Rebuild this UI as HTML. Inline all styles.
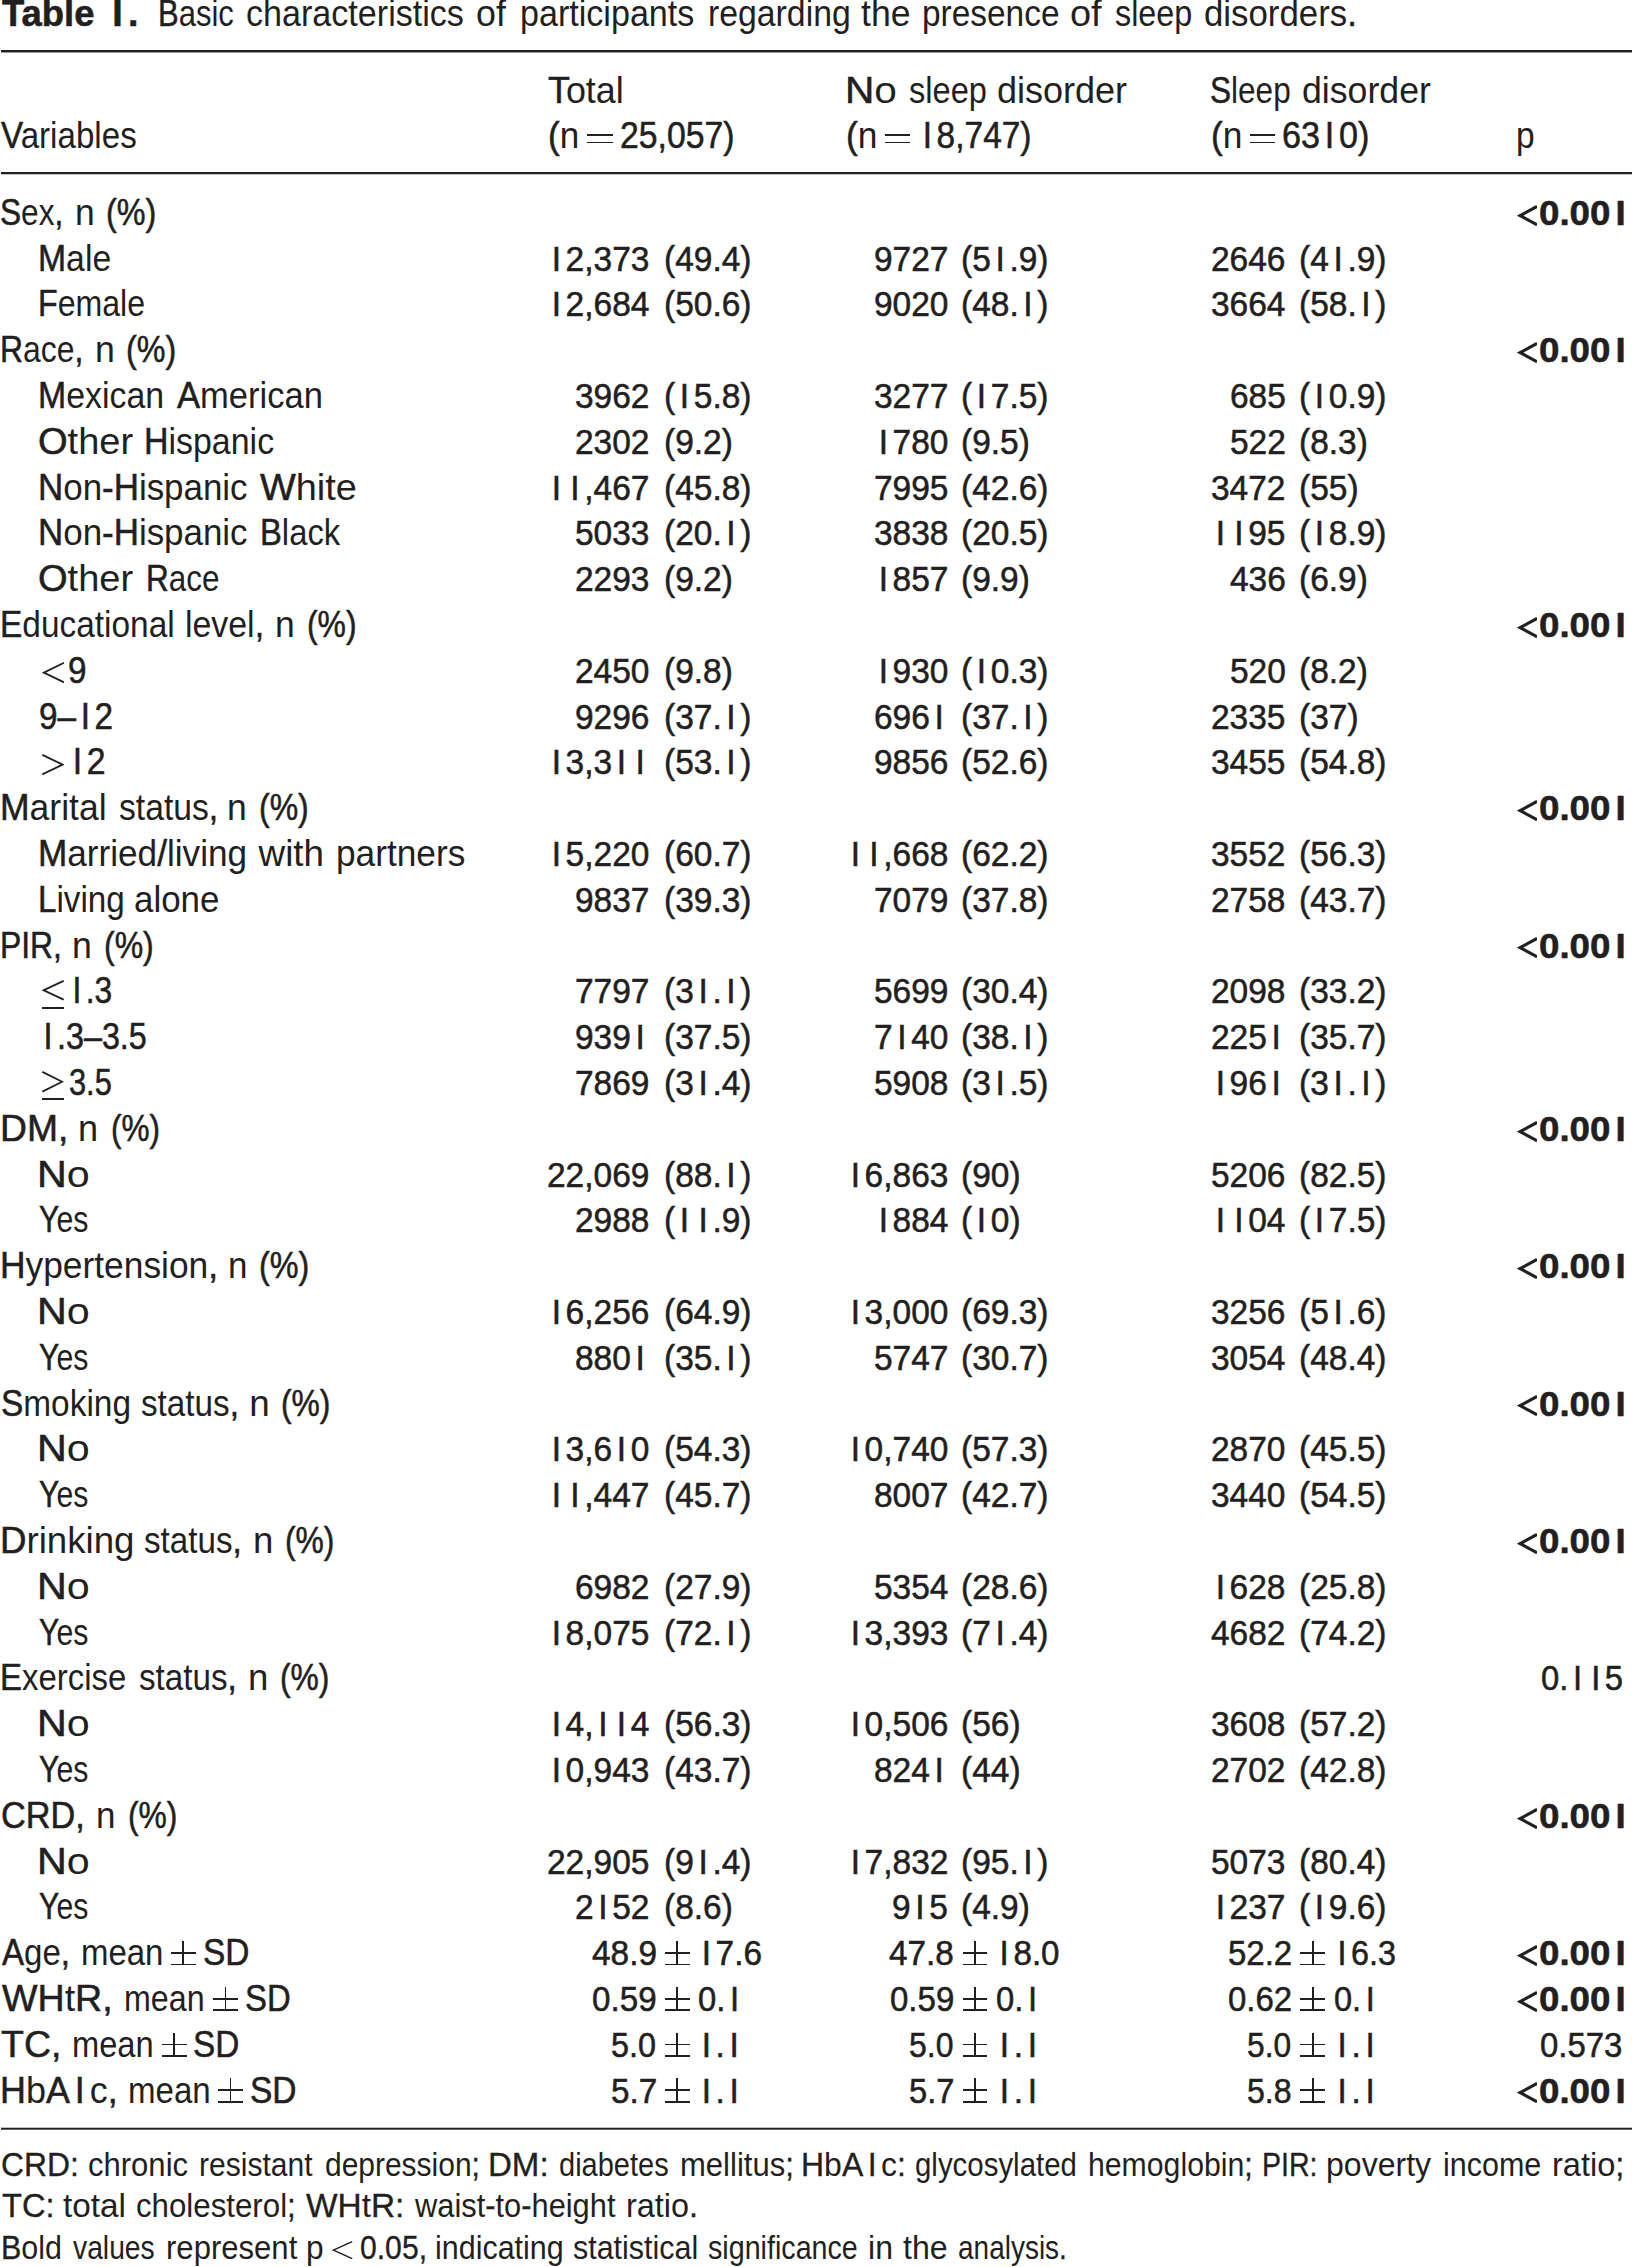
<!DOCTYPE html>
<html><head><meta charset="utf-8"><style>
html,body{margin:0;padding:0;background:#fff;}
body{width:1632px;height:2267px;position:relative;overflow:hidden;font-family:"Liberation Sans",sans-serif;color:#231f20;}
.t{position:absolute;white-space:pre;transform-origin:0 0;-webkit-text-stroke:0.6px #231f20;word-spacing:3.5px;}
.ln{position:absolute;left:1px;width:1631px;background:#231f20;}
.pm{position:absolute;}
.pm i{position:absolute;background:#231f20;display:block;}
</style></head><body>

<div class="t" style="left:2.30px;top:-4.00px;font-size:36.8px;line-height:36.8px;font-weight:bold;-webkit-text-stroke-width:0.55px;transform:scaleX(0.9903)">Table</div>
<div class="t" style="left:107.04px;top:-4.00px;font-size:36.8px;line-height:36.8px;font-weight:bold;-webkit-text-stroke-width:0.55px;transform:scaleX(1.0227)"><span style="margin:0 0.139em">I</span>.</div>
<div class="t" style="left:157.57px;top:-4.00px;font-size:36.8px;line-height:36.8px;-webkit-text-stroke-width:0.55px;transform:scaleX(0.8419)">B<span style="-webkit-text-stroke-width:0.0px">asic</span></div>
<div class="t" style="left:245.65px;top:-4.00px;font-size:36.8px;line-height:36.8px;-webkit-text-stroke-width:0.55px;transform:scaleX(0.9267)"><span style="-webkit-text-stroke-width:0.0px">characteristics</span></div>
<div class="t" style="left:476.06px;top:-4.00px;font-size:36.8px;line-height:36.8px;-webkit-text-stroke-width:0.55px;transform:scaleX(0.9724)"><span style="-webkit-text-stroke-width:0.0px">of</span></div>
<div class="t" style="left:519.85px;top:-4.00px;font-size:36.8px;line-height:36.8px;-webkit-text-stroke-width:0.55px;transform:scaleX(0.9265)"><span style="-webkit-text-stroke-width:0.0px">participants</span></div>
<div class="t" style="left:707.66px;top:-4.00px;font-size:36.8px;line-height:36.8px;-webkit-text-stroke-width:0.55px;transform:scaleX(0.9179)"><span style="-webkit-text-stroke-width:0.0px">regarding</span></div>
<div class="t" style="left:860.63px;top:-4.00px;font-size:36.8px;line-height:36.8px;-webkit-text-stroke-width:0.55px;transform:scaleX(0.9694)"><span style="-webkit-text-stroke-width:0.0px">the</span></div>
<div class="t" style="left:922.18px;top:-4.00px;font-size:36.8px;line-height:36.8px;-webkit-text-stroke-width:0.55px;transform:scaleX(0.9081)"><span style="-webkit-text-stroke-width:0.0px">presence</span></div>
<div class="t" style="left:1070.44px;top:-4.00px;font-size:36.8px;line-height:36.8px;-webkit-text-stroke-width:0.55px;transform:scaleX(1.0310)"><span style="-webkit-text-stroke-width:0.0px">of</span></div>
<div class="t" style="left:1114.72px;top:-4.00px;font-size:36.8px;line-height:36.8px;-webkit-text-stroke-width:0.55px;transform:scaleX(0.8788)"><span style="-webkit-text-stroke-width:0.0px">sleep</span></div>
<div class="t" style="left:1203.91px;top:-4.00px;font-size:36.8px;line-height:36.8px;-webkit-text-stroke-width:0.55px;transform:scaleX(0.9459)"><span style="-webkit-text-stroke-width:0.0px">disorders</span>.</div>
<div class="t" style="left:1.20px;top:118.30px;font-size:36.8px;line-height:36.8px;-webkit-text-stroke-width:0.55px;transform:scaleX(0.9007)">V<span style="-webkit-text-stroke-width:0.0px">ariables</span></div>
<div class="t" style="left:548.33px;top:72.60px;font-size:36.8px;line-height:36.8px;-webkit-text-stroke-width:0.55px;transform:scaleX(0.9743)">T<span style="-webkit-text-stroke-width:0.0px">otal</span></div>
<div class="t" style="left:548.29px;top:118.00px;font-size:36.8px;line-height:36.8px;-webkit-text-stroke-width:0.55px;transform:scaleX(0.9536)">(<span style="-webkit-text-stroke-width:0.0px">n</span></div>
<div class="t" style="left:620.06px;top:118.00px;font-size:36.8px;line-height:36.8px;-webkit-text-stroke-width:0.55px;transform:scaleX(0.9182)">25,057)</div>
<div class="t" style="left:844.79px;top:72.50px;font-size:36.8px;line-height:36.8px;-webkit-text-stroke-width:0.55px;transform:scaleX(1.1024)">N<span style="-webkit-text-stroke-width:0.0px">o</span></div>
<div class="t" style="left:909.01px;top:72.50px;font-size:36.8px;line-height:36.8px;-webkit-text-stroke-width:0.55px;transform:scaleX(0.8859)"><span style="-webkit-text-stroke-width:0.0px">sleep</span></div>
<div class="t" style="left:996.84px;top:72.50px;font-size:36.8px;line-height:36.8px;-webkit-text-stroke-width:0.55px;transform:scaleX(0.9785)"><span style="-webkit-text-stroke-width:0.0px">disorder</span></div>
<div class="t" style="left:846.08px;top:117.80px;font-size:36.8px;line-height:36.8px;-webkit-text-stroke-width:0.55px;transform:scaleX(0.9607)">(<span style="-webkit-text-stroke-width:0.0px">n</span></div>
<div class="t" style="left:918.12px;top:117.80px;font-size:36.8px;line-height:36.8px;-webkit-text-stroke-width:0.55px;transform:scaleX(0.9096)"><span style="margin:0 0.139em">I</span>8,747)</div>
<div class="t" style="left:1209.59px;top:72.50px;font-size:36.8px;line-height:36.8px;-webkit-text-stroke-width:0.55px;transform:scaleX(0.8571)">S<span style="-webkit-text-stroke-width:0.0px">leep</span></div>
<div class="t" style="left:1302.06px;top:72.50px;font-size:36.8px;line-height:36.8px;-webkit-text-stroke-width:0.55px;transform:scaleX(0.9692)"><span style="-webkit-text-stroke-width:0.0px">disorder</span></div>
<div class="t" style="left:1210.98px;top:117.80px;font-size:36.8px;line-height:36.8px;-webkit-text-stroke-width:0.55px;transform:scaleX(0.9607)">(<span style="-webkit-text-stroke-width:0.0px">n</span></div>
<div class="t" style="left:1282.44px;top:117.80px;font-size:36.8px;line-height:36.8px;-webkit-text-stroke-width:0.55px;transform:scaleX(0.9289)">63<span style="margin:0 0.139em">I</span>0)</div>
<div class="t" style="left:1516.18px;top:117.60px;font-size:36.8px;line-height:36.8px;-webkit-text-stroke-width:0.55px;transform:scaleX(0.9100)"><span style="-webkit-text-stroke-width:0.0px">p</span></div>
<div class="t" style="left:0.28px;top:194.80px;font-size:36.8px;line-height:36.8px;-webkit-text-stroke-width:0.55px;transform:scaleX(0.8594)">S<span style="-webkit-text-stroke-width:0.0px">ex</span>,</div>
<div class="t" style="left:75.28px;top:194.80px;font-size:36.8px;line-height:36.8px;-webkit-text-stroke-width:0.55px;transform:scaleX(0.9625)"><span style="-webkit-text-stroke-width:0.0px">n</span></div>
<div class="t" style="left:106.04px;top:194.80px;font-size:36.8px;line-height:36.8px;-webkit-text-stroke-width:0.55px;transform:scaleX(0.8792)">(%)</div>
<div class="t" style="left:37.65px;top:240.60px;font-size:36.8px;line-height:36.8px;-webkit-text-stroke-width:0.55px;transform:scaleX(0.9173)">M<span style="-webkit-text-stroke-width:0.0px">ale</span></div>
<div class="t" style="left:37.78px;top:286.40px;font-size:36.8px;line-height:36.8px;-webkit-text-stroke-width:0.55px;transform:scaleX(0.8729)">F<span style="-webkit-text-stroke-width:0.0px">emale</span></div>
<div class="t" style="left:0.30px;top:332.20px;font-size:36.8px;line-height:36.8px;-webkit-text-stroke-width:0.55px;transform:scaleX(0.8667)">R<span style="-webkit-text-stroke-width:0.0px">ace</span>,</div>
<div class="t" style="left:94.86px;top:332.20px;font-size:36.8px;line-height:36.8px;-webkit-text-stroke-width:0.55px;transform:scaleX(0.9688)"><span style="-webkit-text-stroke-width:0.0px">n</span></div>
<div class="t" style="left:125.75px;top:332.20px;font-size:36.8px;line-height:36.8px;-webkit-text-stroke-width:0.55px;transform:scaleX(0.8774)">(%)</div>
<div class="t" style="left:37.64px;top:378.00px;font-size:36.8px;line-height:36.8px;-webkit-text-stroke-width:0.55px;transform:scaleX(0.9197)">M<span style="-webkit-text-stroke-width:0.0px">exican</span></div>
<div class="t" style="left:177.00px;top:378.00px;font-size:36.8px;line-height:36.8px;-webkit-text-stroke-width:0.55px;transform:scaleX(0.9386)">A<span style="-webkit-text-stroke-width:0.0px">merican</span></div>
<div class="t" style="left:38.33px;top:423.80px;font-size:36.8px;line-height:36.8px;-webkit-text-stroke-width:0.55px;transform:scaleX(1.0337)">O<span style="-webkit-text-stroke-width:0.0px">ther</span></div>
<div class="t" style="left:144.23px;top:423.80px;font-size:36.8px;line-height:36.8px;-webkit-text-stroke-width:0.55px;transform:scaleX(0.9219)">H<span style="-webkit-text-stroke-width:0.0px">ispanic</span></div>
<div class="t" style="left:37.55px;top:469.60px;font-size:36.8px;line-height:36.8px;-webkit-text-stroke-width:0.55px;transform:scaleX(0.9488)">N<span style="-webkit-text-stroke-width:0.0px">on</span>-H<span style="-webkit-text-stroke-width:0.0px">ispanic</span></div>
<div class="t" style="left:260.30px;top:469.60px;font-size:36.8px;line-height:36.8px;-webkit-text-stroke-width:0.55px;transform:scaleX(1.0293)">W<span style="-webkit-text-stroke-width:0.0px">hite</span></div>
<div class="t" style="left:37.55px;top:515.40px;font-size:36.8px;line-height:36.8px;-webkit-text-stroke-width:0.55px;transform:scaleX(0.9488)">N<span style="-webkit-text-stroke-width:0.0px">on</span>-H<span style="-webkit-text-stroke-width:0.0px">ispanic</span></div>
<div class="t" style="left:259.73px;top:515.40px;font-size:36.8px;line-height:36.8px;-webkit-text-stroke-width:0.55px;transform:scaleX(0.8908)">B<span style="-webkit-text-stroke-width:0.0px">lack</span></div>
<div class="t" style="left:38.33px;top:561.20px;font-size:36.8px;line-height:36.8px;-webkit-text-stroke-width:0.55px;transform:scaleX(1.0337)">O<span style="-webkit-text-stroke-width:0.0px">ther</span></div>
<div class="t" style="left:145.73px;top:561.20px;font-size:36.8px;line-height:36.8px;-webkit-text-stroke-width:0.55px;transform:scaleX(0.8556)">R<span style="-webkit-text-stroke-width:0.0px">ace</span></div>
<div class="t" style="left:0.17px;top:607.00px;font-size:36.8px;line-height:36.8px;-webkit-text-stroke-width:0.55px;transform:scaleX(0.9086)">E<span style="-webkit-text-stroke-width:0.0px">ducational</span></div>
<div class="t" style="left:185.44px;top:607.00px;font-size:36.8px;line-height:36.8px;-webkit-text-stroke-width:0.55px;transform:scaleX(0.9200)"><span style="-webkit-text-stroke-width:0.0px">level</span>,</div>
<div class="t" style="left:275.07px;top:607.00px;font-size:36.8px;line-height:36.8px;-webkit-text-stroke-width:0.55px;transform:scaleX(0.9625)"><span style="-webkit-text-stroke-width:0.0px">n</span></div>
<div class="t" style="left:306.57px;top:607.00px;font-size:36.8px;line-height:36.8px;-webkit-text-stroke-width:0.55px;transform:scaleX(0.8660)">(%)</div>
<div class="t" style="left:39.09px;top:698.60px;font-size:36.8px;line-height:36.8px;-webkit-text-stroke-width:0.55px;transform:scaleX(0.9050)">9–<span style="margin:0 0.139em">I</span>2</div>
<div class="t" style="left:0.01px;top:790.20px;font-size:36.8px;line-height:36.8px;-webkit-text-stroke-width:0.55px;transform:scaleX(0.9648)">M<span style="-webkit-text-stroke-width:0.0px">arital</span></div>
<div class="t" style="left:118.68px;top:790.20px;font-size:36.8px;line-height:36.8px;-webkit-text-stroke-width:0.55px;transform:scaleX(0.9152)"><span style="-webkit-text-stroke-width:0.0px">status</span>,</div>
<div class="t" style="left:227.27px;top:790.20px;font-size:36.8px;line-height:36.8px;-webkit-text-stroke-width:0.55px;transform:scaleX(0.9625)"><span style="-webkit-text-stroke-width:0.0px">n</span></div>
<div class="t" style="left:258.56px;top:790.20px;font-size:36.8px;line-height:36.8px;-webkit-text-stroke-width:0.55px;transform:scaleX(0.8698)">(%)</div>
<div class="t" style="left:37.53px;top:836.00px;font-size:36.8px;line-height:36.8px;-webkit-text-stroke-width:0.55px;transform:scaleX(0.9554)">M<span style="-webkit-text-stroke-width:0.0px">arried</span>/<span style="-webkit-text-stroke-width:0.0px">living</span></div>
<div class="t" style="left:258.60px;top:836.00px;font-size:36.8px;line-height:36.8px;-webkit-text-stroke-width:0.55px;transform:scaleX(1.0000)"><span style="-webkit-text-stroke-width:0.0px">with</span></div>
<div class="t" style="left:335.78px;top:836.00px;font-size:36.8px;line-height:36.8px;-webkit-text-stroke-width:0.55px;transform:scaleX(0.9576)"><span style="-webkit-text-stroke-width:0.0px">partners</span></div>
<div class="t" style="left:37.69px;top:881.80px;font-size:36.8px;line-height:36.8px;-webkit-text-stroke-width:0.55px;transform:scaleX(0.9022)">L<span style="-webkit-text-stroke-width:0.0px">iving</span></div>
<div class="t" style="left:134.10px;top:881.80px;font-size:36.8px;line-height:36.8px;-webkit-text-stroke-width:0.55px;transform:scaleX(0.9488)"><span style="-webkit-text-stroke-width:0.0px">alone</span></div>
<div class="t" style="left:0.30px;top:927.60px;font-size:36.8px;line-height:36.8px;-webkit-text-stroke-width:0.55px;transform:scaleX(0.8652)">PIR,</div>
<div class="t" style="left:71.56px;top:927.60px;font-size:36.8px;line-height:36.8px;-webkit-text-stroke-width:0.55px;transform:scaleX(0.9688)"><span style="-webkit-text-stroke-width:0.0px">n</span></div>
<div class="t" style="left:103.66px;top:927.60px;font-size:36.8px;line-height:36.8px;-webkit-text-stroke-width:0.55px;transform:scaleX(0.8698)">(%)</div>
<div class="t" style="left:39.08px;top:1019.20px;font-size:36.8px;line-height:36.8px;-webkit-text-stroke-width:0.55px;transform:scaleX(0.8781)"><span style="margin:0 0.139em">I</span>.3–3.5</div>
<div class="t" style="left:-0.14px;top:1110.80px;font-size:36.8px;line-height:36.8px;-webkit-text-stroke-width:0.55px;transform:scaleX(1.0129)">DM,</div>
<div class="t" style="left:78.44px;top:1110.80px;font-size:36.8px;line-height:36.8px;-webkit-text-stroke-width:0.55px;transform:scaleX(0.9812)"><span style="-webkit-text-stroke-width:0.0px">n</span></div>
<div class="t" style="left:110.99px;top:1110.80px;font-size:36.8px;line-height:36.8px;-webkit-text-stroke-width:0.55px;transform:scaleX(0.8566)">(%)</div>
<div class="t" style="left:0.02px;top:1248.20px;font-size:36.8px;line-height:36.8px;-webkit-text-stroke-width:0.55px;transform:scaleX(0.9606)">H<span style="-webkit-text-stroke-width:0.0px">ypertension</span>,</div>
<div class="t" style="left:228.00px;top:1248.20px;font-size:36.8px;line-height:36.8px;-webkit-text-stroke-width:0.55px;transform:scaleX(0.9500)"><span style="-webkit-text-stroke-width:0.0px">n</span></div>
<div class="t" style="left:259.24px;top:1248.20px;font-size:36.8px;line-height:36.8px;-webkit-text-stroke-width:0.55px;transform:scaleX(0.8792)">(%)</div>
<div class="t" style="left:0.68px;top:1385.60px;font-size:36.8px;line-height:36.8px;-webkit-text-stroke-width:0.55px;transform:scaleX(0.9079)">S<span style="-webkit-text-stroke-width:0.0px">moking</span></div>
<div class="t" style="left:140.80px;top:1385.60px;font-size:36.8px;line-height:36.8px;-webkit-text-stroke-width:0.55px;transform:scaleX(0.9029)"><span style="-webkit-text-stroke-width:0.0px">status</span>,</div>
<div class="t" style="left:249.20px;top:1385.60px;font-size:36.8px;line-height:36.8px;-webkit-text-stroke-width:0.55px;transform:scaleX(1.0000)"><span style="-webkit-text-stroke-width:0.0px">n</span></div>
<div class="t" style="left:281.37px;top:1385.60px;font-size:36.8px;line-height:36.8px;-webkit-text-stroke-width:0.55px;transform:scaleX(0.8642)">(%)</div>
<div class="t" style="left:-0.09px;top:1523.00px;font-size:36.8px;line-height:36.8px;-webkit-text-stroke-width:0.55px;transform:scaleX(0.9962)">D<span style="-webkit-text-stroke-width:0.0px">rinking</span></div>
<div class="t" style="left:144.20px;top:1523.00px;font-size:36.8px;line-height:36.8px;-webkit-text-stroke-width:0.55px;transform:scaleX(0.9010)"><span style="-webkit-text-stroke-width:0.0px">status</span>,</div>
<div class="t" style="left:252.91px;top:1523.00px;font-size:36.8px;line-height:36.8px;-webkit-text-stroke-width:0.55px;transform:scaleX(0.9938)"><span style="-webkit-text-stroke-width:0.0px">n</span></div>
<div class="t" style="left:284.57px;top:1523.00px;font-size:36.8px;line-height:36.8px;-webkit-text-stroke-width:0.55px;transform:scaleX(0.8642)">(%)</div>
<div class="t" style="left:0.22px;top:1660.40px;font-size:36.8px;line-height:36.8px;-webkit-text-stroke-width:0.55px;transform:scaleX(0.8949)">E<span style="-webkit-text-stroke-width:0.0px">xercise</span></div>
<div class="t" style="left:139.30px;top:1660.40px;font-size:36.8px;line-height:36.8px;-webkit-text-stroke-width:0.55px;transform:scaleX(0.9010)"><span style="-webkit-text-stroke-width:0.0px">status</span>,</div>
<div class="t" style="left:248.01px;top:1660.40px;font-size:36.8px;line-height:36.8px;-webkit-text-stroke-width:0.55px;transform:scaleX(0.9937)"><span style="-webkit-text-stroke-width:0.0px">n</span></div>
<div class="t" style="left:279.67px;top:1660.40px;font-size:36.8px;line-height:36.8px;-webkit-text-stroke-width:0.55px;transform:scaleX(0.8642)">(%)</div>
<div class="t" style="left:1.04px;top:1797.80px;font-size:36.8px;line-height:36.8px;-webkit-text-stroke-width:0.55px;transform:scaleX(0.9318)">CRD,</div>
<div class="t" style="left:96.10px;top:1797.80px;font-size:36.8px;line-height:36.8px;-webkit-text-stroke-width:0.55px;transform:scaleX(0.9500)"><span style="-webkit-text-stroke-width:0.0px">n</span></div>
<div class="t" style="left:127.67px;top:1797.80px;font-size:36.8px;line-height:36.8px;-webkit-text-stroke-width:0.55px;transform:scaleX(0.8642)">(%)</div>
<div class="t" style="left:36.94px;top:1156.60px;font-size:36.8px;line-height:36.8px;-webkit-text-stroke-width:0.55px;transform:scaleX(1.1214)">N<span style="-webkit-text-stroke-width:0.0px">o</span></div>
<div class="t" style="left:36.94px;top:1294.00px;font-size:36.8px;line-height:36.8px;-webkit-text-stroke-width:0.55px;transform:scaleX(1.1214)">N<span style="-webkit-text-stroke-width:0.0px">o</span></div>
<div class="t" style="left:36.94px;top:1431.40px;font-size:36.8px;line-height:36.8px;-webkit-text-stroke-width:0.55px;transform:scaleX(1.1214)">N<span style="-webkit-text-stroke-width:0.0px">o</span></div>
<div class="t" style="left:36.94px;top:1568.80px;font-size:36.8px;line-height:36.8px;-webkit-text-stroke-width:0.55px;transform:scaleX(1.1214)">N<span style="-webkit-text-stroke-width:0.0px">o</span></div>
<div class="t" style="left:36.94px;top:1706.20px;font-size:36.8px;line-height:36.8px;-webkit-text-stroke-width:0.55px;transform:scaleX(1.1214)">N<span style="-webkit-text-stroke-width:0.0px">o</span></div>
<div class="t" style="left:36.94px;top:1843.60px;font-size:36.8px;line-height:36.8px;-webkit-text-stroke-width:0.55px;transform:scaleX(1.1214)">N<span style="-webkit-text-stroke-width:0.0px">o</span></div>
<div class="t" style="left:38.88px;top:1202.40px;font-size:36.8px;line-height:36.8px;-webkit-text-stroke-width:0.55px;transform:scaleX(0.8224)">Y<span style="-webkit-text-stroke-width:0.0px">es</span></div>
<div class="t" style="left:38.88px;top:1339.80px;font-size:36.8px;line-height:36.8px;-webkit-text-stroke-width:0.55px;transform:scaleX(0.8224)">Y<span style="-webkit-text-stroke-width:0.0px">es</span></div>
<div class="t" style="left:38.88px;top:1477.20px;font-size:36.8px;line-height:36.8px;-webkit-text-stroke-width:0.55px;transform:scaleX(0.8224)">Y<span style="-webkit-text-stroke-width:0.0px">es</span></div>
<div class="t" style="left:38.88px;top:1614.60px;font-size:36.8px;line-height:36.8px;-webkit-text-stroke-width:0.55px;transform:scaleX(0.8224)">Y<span style="-webkit-text-stroke-width:0.0px">es</span></div>
<div class="t" style="left:38.88px;top:1752.00px;font-size:36.8px;line-height:36.8px;-webkit-text-stroke-width:0.55px;transform:scaleX(0.8224)">Y<span style="-webkit-text-stroke-width:0.0px">es</span></div>
<div class="t" style="left:38.88px;top:1889.40px;font-size:36.8px;line-height:36.8px;-webkit-text-stroke-width:0.55px;transform:scaleX(0.8224)">Y<span style="-webkit-text-stroke-width:0.0px">es</span></div>
<div class="t" style="left:68.09px;top:652.80px;font-size:36.8px;line-height:36.8px;-webkit-text-stroke-width:0.55px;transform:scaleX(0.9056)">9</div>
<div class="t" style="left:67.65px;top:744.40px;font-size:36.8px;line-height:36.8px;-webkit-text-stroke-width:0.55px;transform:scaleX(0.9188)"><span style="margin:0 0.139em">I</span>2</div>
<div class="t" style="left:68.10px;top:973.40px;font-size:36.8px;line-height:36.8px;-webkit-text-stroke-width:0.55px;transform:scaleX(0.8619)"><span style="margin:0 0.139em">I</span>.3</div>
<div class="t" style="left:69.36px;top:1065.00px;font-size:36.8px;line-height:36.8px;-webkit-text-stroke-width:0.55px;transform:scaleX(0.8367)">3.5</div>
<div class="t" style="left:2.00px;top:1935.20px;font-size:36.8px;line-height:36.8px;-webkit-text-stroke-width:0.55px;transform:scaleX(0.8986)">A<span style="-webkit-text-stroke-width:0.0px">ge</span>,</div>
<div class="t" style="left:80.61px;top:1935.20px;font-size:36.8px;line-height:36.8px;-webkit-text-stroke-width:0.55px;transform:scaleX(0.8955)"><span style="-webkit-text-stroke-width:0.0px">mean</span></div>
<div class="t" style="left:202.58px;top:1935.20px;font-size:36.8px;line-height:36.8px;-webkit-text-stroke-width:0.55px;transform:scaleX(0.9083)">SD</div>
<div class="t" style="left:1.50px;top:1981.00px;font-size:36.8px;line-height:36.8px;-webkit-text-stroke-width:0.55px;transform:scaleX(1.0219)">WH<span style="-webkit-text-stroke-width:0.0px">t</span>R,</div>
<div class="t" style="left:123.75px;top:1981.00px;font-size:36.8px;line-height:36.8px;-webkit-text-stroke-width:0.55px;transform:scaleX(0.8750)"><span style="-webkit-text-stroke-width:0.0px">mean</span></div>
<div class="t" style="left:244.82px;top:1981.00px;font-size:36.8px;line-height:36.8px;-webkit-text-stroke-width:0.55px;transform:scaleX(0.8917)">SD</div>
<div class="t" style="left:0.78px;top:2026.80px;font-size:36.8px;line-height:36.8px;-webkit-text-stroke-width:0.55px;transform:scaleX(1.0182)">TC,</div>
<div class="t" style="left:71.72px;top:2026.80px;font-size:36.8px;line-height:36.8px;-webkit-text-stroke-width:0.55px;transform:scaleX(0.8875)"><span style="-webkit-text-stroke-width:0.0px">mean</span></div>
<div class="t" style="left:193.39px;top:2026.80px;font-size:36.8px;line-height:36.8px;-webkit-text-stroke-width:0.55px;transform:scaleX(0.9062)">SD</div>
<div class="t" style="left:-0.43px;top:2072.60px;font-size:36.8px;line-height:36.8px;-webkit-text-stroke-width:0.55px;transform:scaleX(0.9757)">H<span style="-webkit-text-stroke-width:0.0px">b</span>A<span style="margin:0 0.139em">I</span><span style="-webkit-text-stroke-width:0.0px">c</span>,</div>
<div class="t" style="left:127.60px;top:2072.60px;font-size:36.8px;line-height:36.8px;-webkit-text-stroke-width:0.55px;transform:scaleX(0.8989)"><span style="-webkit-text-stroke-width:0.0px">mean</span></div>
<div class="t" style="left:249.68px;top:2072.60px;font-size:36.8px;line-height:36.8px;-webkit-text-stroke-width:0.55px;transform:scaleX(0.9104)">SD</div>
<div class="t" style="left:547.41px;top:240.60px;font-size:35.0px;line-height:35.0px;-webkit-text-stroke-width:0.55px;transform:scaleX(0.9568)"><span style="margin:0 0.139em">I</span>2,373</div>
<div class="t" style="left:663.79px;top:240.60px;font-size:35.0px;line-height:35.0px;-webkit-text-stroke-width:0.55px;transform:scaleX(0.9568)">(49.4)</div>
<div class="t" style="left:873.53px;top:240.60px;font-size:35.0px;line-height:35.0px;-webkit-text-stroke-width:0.55px;transform:scaleX(0.9568)">9727</div>
<div class="t" style="left:961.09px;top:240.60px;font-size:35.0px;line-height:35.0px;-webkit-text-stroke-width:0.55px;transform:scaleX(0.9568)">(5<span style="margin:0 0.139em">I</span>.9)</div>
<div class="t" style="left:1211.03px;top:240.60px;font-size:35.0px;line-height:35.0px;-webkit-text-stroke-width:0.55px;transform:scaleX(0.9568)">2646</div>
<div class="t" style="left:1299.09px;top:240.60px;font-size:35.0px;line-height:35.0px;-webkit-text-stroke-width:0.55px;transform:scaleX(0.9568)">(4<span style="margin:0 0.139em">I</span>.9)</div>
<div class="t" style="left:547.41px;top:286.40px;font-size:35.0px;line-height:35.0px;-webkit-text-stroke-width:0.55px;transform:scaleX(0.9568)"><span style="margin:0 0.139em">I</span>2,684</div>
<div class="t" style="left:663.79px;top:286.40px;font-size:35.0px;line-height:35.0px;-webkit-text-stroke-width:0.55px;transform:scaleX(0.9568)">(50.6)</div>
<div class="t" style="left:873.53px;top:286.40px;font-size:35.0px;line-height:35.0px;-webkit-text-stroke-width:0.55px;transform:scaleX(0.9568)">9020</div>
<div class="t" style="left:961.09px;top:286.40px;font-size:35.0px;line-height:35.0px;-webkit-text-stroke-width:0.55px;transform:scaleX(0.9568)">(48.<span style="margin:0 0.139em">I</span>)</div>
<div class="t" style="left:1211.03px;top:286.40px;font-size:35.0px;line-height:35.0px;-webkit-text-stroke-width:0.55px;transform:scaleX(0.9568)">3664</div>
<div class="t" style="left:1299.09px;top:286.40px;font-size:35.0px;line-height:35.0px;-webkit-text-stroke-width:0.55px;transform:scaleX(0.9568)">(58.<span style="margin:0 0.139em">I</span>)</div>
<div class="t" style="left:575.33px;top:378.00px;font-size:35.0px;line-height:35.0px;-webkit-text-stroke-width:0.55px;transform:scaleX(0.9568)">3962</div>
<div class="t" style="left:663.79px;top:378.00px;font-size:35.0px;line-height:35.0px;-webkit-text-stroke-width:0.55px;transform:scaleX(0.9568)">(<span style="margin:0 0.139em">I</span>5.8)</div>
<div class="t" style="left:873.53px;top:378.00px;font-size:35.0px;line-height:35.0px;-webkit-text-stroke-width:0.55px;transform:scaleX(0.9568)">3277</div>
<div class="t" style="left:961.09px;top:378.00px;font-size:35.0px;line-height:35.0px;-webkit-text-stroke-width:0.55px;transform:scaleX(0.9568)">(<span style="margin:0 0.139em">I</span>7.5)</div>
<div class="t" style="left:1229.65px;top:378.00px;font-size:35.0px;line-height:35.0px;-webkit-text-stroke-width:0.55px;transform:scaleX(0.9568)">685</div>
<div class="t" style="left:1299.09px;top:378.00px;font-size:35.0px;line-height:35.0px;-webkit-text-stroke-width:0.55px;transform:scaleX(0.9568)">(<span style="margin:0 0.139em">I</span>0.9)</div>
<div class="t" style="left:575.33px;top:423.80px;font-size:35.0px;line-height:35.0px;-webkit-text-stroke-width:0.55px;transform:scaleX(0.9568)">2302</div>
<div class="t" style="left:663.79px;top:423.80px;font-size:35.0px;line-height:35.0px;-webkit-text-stroke-width:0.55px;transform:scaleX(0.9568)">(9.2)</div>
<div class="t" style="left:873.54px;top:423.80px;font-size:35.0px;line-height:35.0px;-webkit-text-stroke-width:0.55px;transform:scaleX(0.9568)"><span style="margin:0 0.139em">I</span>780</div>
<div class="t" style="left:961.09px;top:423.80px;font-size:35.0px;line-height:35.0px;-webkit-text-stroke-width:0.55px;transform:scaleX(0.9568)">(9.5)</div>
<div class="t" style="left:1229.65px;top:423.80px;font-size:35.0px;line-height:35.0px;-webkit-text-stroke-width:0.55px;transform:scaleX(0.9568)">522</div>
<div class="t" style="left:1299.09px;top:423.80px;font-size:35.0px;line-height:35.0px;-webkit-text-stroke-width:0.55px;transform:scaleX(0.9568)">(8.3)</div>
<div class="t" style="left:547.43px;top:469.60px;font-size:35.0px;line-height:35.0px;-webkit-text-stroke-width:0.55px;transform:scaleX(0.9568)"><span style="margin:0 0.139em">I</span><span style="margin:0 0.139em">I</span>,467</div>
<div class="t" style="left:663.79px;top:469.60px;font-size:35.0px;line-height:35.0px;-webkit-text-stroke-width:0.55px;transform:scaleX(0.9568)">(45.8)</div>
<div class="t" style="left:873.53px;top:469.60px;font-size:35.0px;line-height:35.0px;-webkit-text-stroke-width:0.55px;transform:scaleX(0.9568)">7995</div>
<div class="t" style="left:961.09px;top:469.60px;font-size:35.0px;line-height:35.0px;-webkit-text-stroke-width:0.55px;transform:scaleX(0.9568)">(42.6)</div>
<div class="t" style="left:1211.03px;top:469.60px;font-size:35.0px;line-height:35.0px;-webkit-text-stroke-width:0.55px;transform:scaleX(0.9568)">3472</div>
<div class="t" style="left:1299.09px;top:469.60px;font-size:35.0px;line-height:35.0px;-webkit-text-stroke-width:0.55px;transform:scaleX(0.9568)">(55)</div>
<div class="t" style="left:575.33px;top:515.40px;font-size:35.0px;line-height:35.0px;-webkit-text-stroke-width:0.55px;transform:scaleX(0.9568)">5033</div>
<div class="t" style="left:663.79px;top:515.40px;font-size:35.0px;line-height:35.0px;-webkit-text-stroke-width:0.55px;transform:scaleX(0.9568)">(20.<span style="margin:0 0.139em">I</span>)</div>
<div class="t" style="left:873.53px;top:515.40px;font-size:35.0px;line-height:35.0px;-webkit-text-stroke-width:0.55px;transform:scaleX(0.9568)">3838</div>
<div class="t" style="left:961.09px;top:515.40px;font-size:35.0px;line-height:35.0px;-webkit-text-stroke-width:0.55px;transform:scaleX(0.9568)">(20.5)</div>
<div class="t" style="left:1211.06px;top:515.40px;font-size:35.0px;line-height:35.0px;-webkit-text-stroke-width:0.55px;transform:scaleX(0.9568)"><span style="margin:0 0.139em">I</span><span style="margin:0 0.139em">I</span>95</div>
<div class="t" style="left:1299.09px;top:515.40px;font-size:35.0px;line-height:35.0px;-webkit-text-stroke-width:0.55px;transform:scaleX(0.9568)">(<span style="margin:0 0.139em">I</span>8.9)</div>
<div class="t" style="left:575.33px;top:561.20px;font-size:35.0px;line-height:35.0px;-webkit-text-stroke-width:0.55px;transform:scaleX(0.9568)">2293</div>
<div class="t" style="left:663.79px;top:561.20px;font-size:35.0px;line-height:35.0px;-webkit-text-stroke-width:0.55px;transform:scaleX(0.9568)">(9.2)</div>
<div class="t" style="left:873.54px;top:561.20px;font-size:35.0px;line-height:35.0px;-webkit-text-stroke-width:0.55px;transform:scaleX(0.9568)"><span style="margin:0 0.139em">I</span>857</div>
<div class="t" style="left:961.09px;top:561.20px;font-size:35.0px;line-height:35.0px;-webkit-text-stroke-width:0.55px;transform:scaleX(0.9568)">(9.9)</div>
<div class="t" style="left:1229.65px;top:561.20px;font-size:35.0px;line-height:35.0px;-webkit-text-stroke-width:0.55px;transform:scaleX(0.9568)">436</div>
<div class="t" style="left:1299.09px;top:561.20px;font-size:35.0px;line-height:35.0px;-webkit-text-stroke-width:0.55px;transform:scaleX(0.9568)">(6.9)</div>
<div class="t" style="left:575.33px;top:652.80px;font-size:35.0px;line-height:35.0px;-webkit-text-stroke-width:0.55px;transform:scaleX(0.9568)">2450</div>
<div class="t" style="left:663.79px;top:652.80px;font-size:35.0px;line-height:35.0px;-webkit-text-stroke-width:0.55px;transform:scaleX(0.9568)">(9.8)</div>
<div class="t" style="left:873.54px;top:652.80px;font-size:35.0px;line-height:35.0px;-webkit-text-stroke-width:0.55px;transform:scaleX(0.9568)"><span style="margin:0 0.139em">I</span>930</div>
<div class="t" style="left:961.09px;top:652.80px;font-size:35.0px;line-height:35.0px;-webkit-text-stroke-width:0.55px;transform:scaleX(0.9568)">(<span style="margin:0 0.139em">I</span>0.3)</div>
<div class="t" style="left:1229.65px;top:652.80px;font-size:35.0px;line-height:35.0px;-webkit-text-stroke-width:0.55px;transform:scaleX(0.9568)">520</div>
<div class="t" style="left:1299.09px;top:652.80px;font-size:35.0px;line-height:35.0px;-webkit-text-stroke-width:0.55px;transform:scaleX(0.9568)">(8.2)</div>
<div class="t" style="left:575.33px;top:698.60px;font-size:35.0px;line-height:35.0px;-webkit-text-stroke-width:0.55px;transform:scaleX(0.9568)">9296</div>
<div class="t" style="left:663.79px;top:698.60px;font-size:35.0px;line-height:35.0px;-webkit-text-stroke-width:0.55px;transform:scaleX(0.9568)">(37.<span style="margin:0 0.139em">I</span>)</div>
<div class="t" style="left:873.54px;top:698.60px;font-size:35.0px;line-height:35.0px;-webkit-text-stroke-width:0.55px;transform:scaleX(0.9568)">696<span style="margin:0 0.139em">I</span></div>
<div class="t" style="left:961.09px;top:698.60px;font-size:35.0px;line-height:35.0px;-webkit-text-stroke-width:0.55px;transform:scaleX(0.9568)">(37.<span style="margin:0 0.139em">I</span>)</div>
<div class="t" style="left:1211.03px;top:698.60px;font-size:35.0px;line-height:35.0px;-webkit-text-stroke-width:0.55px;transform:scaleX(0.9568)">2335</div>
<div class="t" style="left:1299.09px;top:698.60px;font-size:35.0px;line-height:35.0px;-webkit-text-stroke-width:0.55px;transform:scaleX(0.9568)">(37)</div>
<div class="t" style="left:547.44px;top:744.40px;font-size:35.0px;line-height:35.0px;-webkit-text-stroke-width:0.55px;transform:scaleX(0.9568)"><span style="margin:0 0.139em">I</span>3,3<span style="margin:0 0.139em">I</span><span style="margin:0 0.139em">I</span></div>
<div class="t" style="left:663.79px;top:744.40px;font-size:35.0px;line-height:35.0px;-webkit-text-stroke-width:0.55px;transform:scaleX(0.9568)">(53.<span style="margin:0 0.139em">I</span>)</div>
<div class="t" style="left:873.53px;top:744.40px;font-size:35.0px;line-height:35.0px;-webkit-text-stroke-width:0.55px;transform:scaleX(0.9568)">9856</div>
<div class="t" style="left:961.09px;top:744.40px;font-size:35.0px;line-height:35.0px;-webkit-text-stroke-width:0.55px;transform:scaleX(0.9568)">(52.6)</div>
<div class="t" style="left:1211.03px;top:744.40px;font-size:35.0px;line-height:35.0px;-webkit-text-stroke-width:0.55px;transform:scaleX(0.9568)">3455</div>
<div class="t" style="left:1299.09px;top:744.40px;font-size:35.0px;line-height:35.0px;-webkit-text-stroke-width:0.55px;transform:scaleX(0.9568)">(54.8)</div>
<div class="t" style="left:547.41px;top:836.00px;font-size:35.0px;line-height:35.0px;-webkit-text-stroke-width:0.55px;transform:scaleX(0.9568)"><span style="margin:0 0.139em">I</span>5,220</div>
<div class="t" style="left:663.79px;top:836.00px;font-size:35.0px;line-height:35.0px;-webkit-text-stroke-width:0.55px;transform:scaleX(0.9568)">(60.7)</div>
<div class="t" style="left:845.63px;top:836.00px;font-size:35.0px;line-height:35.0px;-webkit-text-stroke-width:0.55px;transform:scaleX(0.9568)"><span style="margin:0 0.139em">I</span><span style="margin:0 0.139em">I</span>,668</div>
<div class="t" style="left:961.09px;top:836.00px;font-size:35.0px;line-height:35.0px;-webkit-text-stroke-width:0.55px;transform:scaleX(0.9568)">(62.2)</div>
<div class="t" style="left:1211.03px;top:836.00px;font-size:35.0px;line-height:35.0px;-webkit-text-stroke-width:0.55px;transform:scaleX(0.9568)">3552</div>
<div class="t" style="left:1299.09px;top:836.00px;font-size:35.0px;line-height:35.0px;-webkit-text-stroke-width:0.55px;transform:scaleX(0.9568)">(56.3)</div>
<div class="t" style="left:575.33px;top:881.80px;font-size:35.0px;line-height:35.0px;-webkit-text-stroke-width:0.55px;transform:scaleX(0.9568)">9837</div>
<div class="t" style="left:663.79px;top:881.80px;font-size:35.0px;line-height:35.0px;-webkit-text-stroke-width:0.55px;transform:scaleX(0.9568)">(39.3)</div>
<div class="t" style="left:873.53px;top:881.80px;font-size:35.0px;line-height:35.0px;-webkit-text-stroke-width:0.55px;transform:scaleX(0.9568)">7079</div>
<div class="t" style="left:961.09px;top:881.80px;font-size:35.0px;line-height:35.0px;-webkit-text-stroke-width:0.55px;transform:scaleX(0.9568)">(37.8)</div>
<div class="t" style="left:1211.03px;top:881.80px;font-size:35.0px;line-height:35.0px;-webkit-text-stroke-width:0.55px;transform:scaleX(0.9568)">2758</div>
<div class="t" style="left:1299.09px;top:881.80px;font-size:35.0px;line-height:35.0px;-webkit-text-stroke-width:0.55px;transform:scaleX(0.9568)">(43.7)</div>
<div class="t" style="left:575.33px;top:973.40px;font-size:35.0px;line-height:35.0px;-webkit-text-stroke-width:0.55px;transform:scaleX(0.9568)">7797</div>
<div class="t" style="left:663.79px;top:973.40px;font-size:35.0px;line-height:35.0px;-webkit-text-stroke-width:0.55px;transform:scaleX(0.9568)">(3<span style="margin:0 0.139em">I</span>.<span style="margin:0 0.139em">I</span>)</div>
<div class="t" style="left:873.53px;top:973.40px;font-size:35.0px;line-height:35.0px;-webkit-text-stroke-width:0.55px;transform:scaleX(0.9568)">5699</div>
<div class="t" style="left:961.09px;top:973.40px;font-size:35.0px;line-height:35.0px;-webkit-text-stroke-width:0.55px;transform:scaleX(0.9568)">(30.4)</div>
<div class="t" style="left:1211.03px;top:973.40px;font-size:35.0px;line-height:35.0px;-webkit-text-stroke-width:0.55px;transform:scaleX(0.9568)">2098</div>
<div class="t" style="left:1299.09px;top:973.40px;font-size:35.0px;line-height:35.0px;-webkit-text-stroke-width:0.55px;transform:scaleX(0.9568)">(33.2)</div>
<div class="t" style="left:575.34px;top:1019.20px;font-size:35.0px;line-height:35.0px;-webkit-text-stroke-width:0.55px;transform:scaleX(0.9568)">939<span style="margin:0 0.139em">I</span></div>
<div class="t" style="left:663.79px;top:1019.20px;font-size:35.0px;line-height:35.0px;-webkit-text-stroke-width:0.55px;transform:scaleX(0.9568)">(37.5)</div>
<div class="t" style="left:873.54px;top:1019.20px;font-size:35.0px;line-height:35.0px;-webkit-text-stroke-width:0.55px;transform:scaleX(0.9568)">7<span style="margin:0 0.139em">I</span>40</div>
<div class="t" style="left:961.09px;top:1019.20px;font-size:35.0px;line-height:35.0px;-webkit-text-stroke-width:0.55px;transform:scaleX(0.9568)">(38.<span style="margin:0 0.139em">I</span>)</div>
<div class="t" style="left:1211.04px;top:1019.20px;font-size:35.0px;line-height:35.0px;-webkit-text-stroke-width:0.55px;transform:scaleX(0.9568)">225<span style="margin:0 0.139em">I</span></div>
<div class="t" style="left:1299.09px;top:1019.20px;font-size:35.0px;line-height:35.0px;-webkit-text-stroke-width:0.55px;transform:scaleX(0.9568)">(35.7)</div>
<div class="t" style="left:575.33px;top:1065.00px;font-size:35.0px;line-height:35.0px;-webkit-text-stroke-width:0.55px;transform:scaleX(0.9568)">7869</div>
<div class="t" style="left:663.79px;top:1065.00px;font-size:35.0px;line-height:35.0px;-webkit-text-stroke-width:0.55px;transform:scaleX(0.9568)">(3<span style="margin:0 0.139em">I</span>.4)</div>
<div class="t" style="left:873.53px;top:1065.00px;font-size:35.0px;line-height:35.0px;-webkit-text-stroke-width:0.55px;transform:scaleX(0.9568)">5908</div>
<div class="t" style="left:961.09px;top:1065.00px;font-size:35.0px;line-height:35.0px;-webkit-text-stroke-width:0.55px;transform:scaleX(0.9568)">(3<span style="margin:0 0.139em">I</span>.5)</div>
<div class="t" style="left:1211.06px;top:1065.00px;font-size:35.0px;line-height:35.0px;-webkit-text-stroke-width:0.55px;transform:scaleX(0.9568)"><span style="margin:0 0.139em">I</span>96<span style="margin:0 0.139em">I</span></div>
<div class="t" style="left:1299.09px;top:1065.00px;font-size:35.0px;line-height:35.0px;-webkit-text-stroke-width:0.55px;transform:scaleX(0.9568)">(3<span style="margin:0 0.139em">I</span>.<span style="margin:0 0.139em">I</span>)</div>
<div class="t" style="left:547.40px;top:1156.60px;font-size:35.0px;line-height:35.0px;-webkit-text-stroke-width:0.55px;transform:scaleX(0.9568)">22,069</div>
<div class="t" style="left:663.79px;top:1156.60px;font-size:35.0px;line-height:35.0px;-webkit-text-stroke-width:0.55px;transform:scaleX(0.9568)">(88.<span style="margin:0 0.139em">I</span>)</div>
<div class="t" style="left:845.61px;top:1156.60px;font-size:35.0px;line-height:35.0px;-webkit-text-stroke-width:0.55px;transform:scaleX(0.9568)"><span style="margin:0 0.139em">I</span>6,863</div>
<div class="t" style="left:961.09px;top:1156.60px;font-size:35.0px;line-height:35.0px;-webkit-text-stroke-width:0.55px;transform:scaleX(0.9568)">(90)</div>
<div class="t" style="left:1211.03px;top:1156.60px;font-size:35.0px;line-height:35.0px;-webkit-text-stroke-width:0.55px;transform:scaleX(0.9568)">5206</div>
<div class="t" style="left:1299.09px;top:1156.60px;font-size:35.0px;line-height:35.0px;-webkit-text-stroke-width:0.55px;transform:scaleX(0.9568)">(82.5)</div>
<div class="t" style="left:575.33px;top:1202.40px;font-size:35.0px;line-height:35.0px;-webkit-text-stroke-width:0.55px;transform:scaleX(0.9568)">2988</div>
<div class="t" style="left:663.79px;top:1202.40px;font-size:35.0px;line-height:35.0px;-webkit-text-stroke-width:0.55px;transform:scaleX(0.9568)">(<span style="margin:0 0.139em">I</span><span style="margin:0 0.139em">I</span>.9)</div>
<div class="t" style="left:873.54px;top:1202.40px;font-size:35.0px;line-height:35.0px;-webkit-text-stroke-width:0.55px;transform:scaleX(0.9568)"><span style="margin:0 0.139em">I</span>884</div>
<div class="t" style="left:961.09px;top:1202.40px;font-size:35.0px;line-height:35.0px;-webkit-text-stroke-width:0.55px;transform:scaleX(0.9568)">(<span style="margin:0 0.139em">I</span>0)</div>
<div class="t" style="left:1211.06px;top:1202.40px;font-size:35.0px;line-height:35.0px;-webkit-text-stroke-width:0.55px;transform:scaleX(0.9568)"><span style="margin:0 0.139em">I</span><span style="margin:0 0.139em">I</span>04</div>
<div class="t" style="left:1299.09px;top:1202.40px;font-size:35.0px;line-height:35.0px;-webkit-text-stroke-width:0.55px;transform:scaleX(0.9568)">(<span style="margin:0 0.139em">I</span>7.5)</div>
<div class="t" style="left:547.41px;top:1294.00px;font-size:35.0px;line-height:35.0px;-webkit-text-stroke-width:0.55px;transform:scaleX(0.9568)"><span style="margin:0 0.139em">I</span>6,256</div>
<div class="t" style="left:663.79px;top:1294.00px;font-size:35.0px;line-height:35.0px;-webkit-text-stroke-width:0.55px;transform:scaleX(0.9568)">(64.9)</div>
<div class="t" style="left:845.61px;top:1294.00px;font-size:35.0px;line-height:35.0px;-webkit-text-stroke-width:0.55px;transform:scaleX(0.9568)"><span style="margin:0 0.139em">I</span>3,000</div>
<div class="t" style="left:961.09px;top:1294.00px;font-size:35.0px;line-height:35.0px;-webkit-text-stroke-width:0.55px;transform:scaleX(0.9568)">(69.3)</div>
<div class="t" style="left:1211.03px;top:1294.00px;font-size:35.0px;line-height:35.0px;-webkit-text-stroke-width:0.55px;transform:scaleX(0.9568)">3256</div>
<div class="t" style="left:1299.09px;top:1294.00px;font-size:35.0px;line-height:35.0px;-webkit-text-stroke-width:0.55px;transform:scaleX(0.9568)">(5<span style="margin:0 0.139em">I</span>.6)</div>
<div class="t" style="left:575.34px;top:1339.80px;font-size:35.0px;line-height:35.0px;-webkit-text-stroke-width:0.55px;transform:scaleX(0.9568)">880<span style="margin:0 0.139em">I</span></div>
<div class="t" style="left:663.79px;top:1339.80px;font-size:35.0px;line-height:35.0px;-webkit-text-stroke-width:0.55px;transform:scaleX(0.9568)">(35.<span style="margin:0 0.139em">I</span>)</div>
<div class="t" style="left:873.53px;top:1339.80px;font-size:35.0px;line-height:35.0px;-webkit-text-stroke-width:0.55px;transform:scaleX(0.9568)">5747</div>
<div class="t" style="left:961.09px;top:1339.80px;font-size:35.0px;line-height:35.0px;-webkit-text-stroke-width:0.55px;transform:scaleX(0.9568)">(30.7)</div>
<div class="t" style="left:1211.03px;top:1339.80px;font-size:35.0px;line-height:35.0px;-webkit-text-stroke-width:0.55px;transform:scaleX(0.9568)">3054</div>
<div class="t" style="left:1299.09px;top:1339.80px;font-size:35.0px;line-height:35.0px;-webkit-text-stroke-width:0.55px;transform:scaleX(0.9568)">(48.4)</div>
<div class="t" style="left:547.43px;top:1431.40px;font-size:35.0px;line-height:35.0px;-webkit-text-stroke-width:0.55px;transform:scaleX(0.9568)"><span style="margin:0 0.139em">I</span>3,6<span style="margin:0 0.139em">I</span>0</div>
<div class="t" style="left:663.79px;top:1431.40px;font-size:35.0px;line-height:35.0px;-webkit-text-stroke-width:0.55px;transform:scaleX(0.9568)">(54.3)</div>
<div class="t" style="left:845.61px;top:1431.40px;font-size:35.0px;line-height:35.0px;-webkit-text-stroke-width:0.55px;transform:scaleX(0.9568)"><span style="margin:0 0.139em">I</span>0,740</div>
<div class="t" style="left:961.09px;top:1431.40px;font-size:35.0px;line-height:35.0px;-webkit-text-stroke-width:0.55px;transform:scaleX(0.9568)">(57.3)</div>
<div class="t" style="left:1211.03px;top:1431.40px;font-size:35.0px;line-height:35.0px;-webkit-text-stroke-width:0.55px;transform:scaleX(0.9568)">2870</div>
<div class="t" style="left:1299.09px;top:1431.40px;font-size:35.0px;line-height:35.0px;-webkit-text-stroke-width:0.55px;transform:scaleX(0.9568)">(45.5)</div>
<div class="t" style="left:547.43px;top:1477.20px;font-size:35.0px;line-height:35.0px;-webkit-text-stroke-width:0.55px;transform:scaleX(0.9568)"><span style="margin:0 0.139em">I</span><span style="margin:0 0.139em">I</span>,447</div>
<div class="t" style="left:663.79px;top:1477.20px;font-size:35.0px;line-height:35.0px;-webkit-text-stroke-width:0.55px;transform:scaleX(0.9568)">(45.7)</div>
<div class="t" style="left:873.53px;top:1477.20px;font-size:35.0px;line-height:35.0px;-webkit-text-stroke-width:0.55px;transform:scaleX(0.9568)">8007</div>
<div class="t" style="left:961.09px;top:1477.20px;font-size:35.0px;line-height:35.0px;-webkit-text-stroke-width:0.55px;transform:scaleX(0.9568)">(42.7)</div>
<div class="t" style="left:1211.03px;top:1477.20px;font-size:35.0px;line-height:35.0px;-webkit-text-stroke-width:0.55px;transform:scaleX(0.9568)">3440</div>
<div class="t" style="left:1299.09px;top:1477.20px;font-size:35.0px;line-height:35.0px;-webkit-text-stroke-width:0.55px;transform:scaleX(0.9568)">(54.5)</div>
<div class="t" style="left:575.33px;top:1568.80px;font-size:35.0px;line-height:35.0px;-webkit-text-stroke-width:0.55px;transform:scaleX(0.9568)">6982</div>
<div class="t" style="left:663.79px;top:1568.80px;font-size:35.0px;line-height:35.0px;-webkit-text-stroke-width:0.55px;transform:scaleX(0.9568)">(27.9)</div>
<div class="t" style="left:873.53px;top:1568.80px;font-size:35.0px;line-height:35.0px;-webkit-text-stroke-width:0.55px;transform:scaleX(0.9568)">5354</div>
<div class="t" style="left:961.09px;top:1568.80px;font-size:35.0px;line-height:35.0px;-webkit-text-stroke-width:0.55px;transform:scaleX(0.9568)">(28.6)</div>
<div class="t" style="left:1211.04px;top:1568.80px;font-size:35.0px;line-height:35.0px;-webkit-text-stroke-width:0.55px;transform:scaleX(0.9568)"><span style="margin:0 0.139em">I</span>628</div>
<div class="t" style="left:1299.09px;top:1568.80px;font-size:35.0px;line-height:35.0px;-webkit-text-stroke-width:0.55px;transform:scaleX(0.9568)">(25.8)</div>
<div class="t" style="left:547.41px;top:1614.60px;font-size:35.0px;line-height:35.0px;-webkit-text-stroke-width:0.55px;transform:scaleX(0.9568)"><span style="margin:0 0.139em">I</span>8,075</div>
<div class="t" style="left:663.79px;top:1614.60px;font-size:35.0px;line-height:35.0px;-webkit-text-stroke-width:0.55px;transform:scaleX(0.9568)">(72.<span style="margin:0 0.139em">I</span>)</div>
<div class="t" style="left:845.61px;top:1614.60px;font-size:35.0px;line-height:35.0px;-webkit-text-stroke-width:0.55px;transform:scaleX(0.9568)"><span style="margin:0 0.139em">I</span>3,393</div>
<div class="t" style="left:961.09px;top:1614.60px;font-size:35.0px;line-height:35.0px;-webkit-text-stroke-width:0.55px;transform:scaleX(0.9568)">(7<span style="margin:0 0.139em">I</span>.4)</div>
<div class="t" style="left:1211.03px;top:1614.60px;font-size:35.0px;line-height:35.0px;-webkit-text-stroke-width:0.55px;transform:scaleX(0.9568)">4682</div>
<div class="t" style="left:1299.09px;top:1614.60px;font-size:35.0px;line-height:35.0px;-webkit-text-stroke-width:0.55px;transform:scaleX(0.9568)">(74.2)</div>
<div class="t" style="left:547.43px;top:1706.20px;font-size:35.0px;line-height:35.0px;-webkit-text-stroke-width:0.55px;transform:scaleX(0.9568)"><span style="margin:0 0.139em">I</span>4,<span style="margin:0 0.139em">I</span><span style="margin:0 0.139em">I</span>4</div>
<div class="t" style="left:663.79px;top:1706.20px;font-size:35.0px;line-height:35.0px;-webkit-text-stroke-width:0.55px;transform:scaleX(0.9568)">(56.3)</div>
<div class="t" style="left:845.61px;top:1706.20px;font-size:35.0px;line-height:35.0px;-webkit-text-stroke-width:0.55px;transform:scaleX(0.9568)"><span style="margin:0 0.139em">I</span>0,506</div>
<div class="t" style="left:961.09px;top:1706.20px;font-size:35.0px;line-height:35.0px;-webkit-text-stroke-width:0.55px;transform:scaleX(0.9568)">(56)</div>
<div class="t" style="left:1211.03px;top:1706.20px;font-size:35.0px;line-height:35.0px;-webkit-text-stroke-width:0.55px;transform:scaleX(0.9568)">3608</div>
<div class="t" style="left:1299.09px;top:1706.20px;font-size:35.0px;line-height:35.0px;-webkit-text-stroke-width:0.55px;transform:scaleX(0.9568)">(57.2)</div>
<div class="t" style="left:547.41px;top:1752.00px;font-size:35.0px;line-height:35.0px;-webkit-text-stroke-width:0.55px;transform:scaleX(0.9568)"><span style="margin:0 0.139em">I</span>0,943</div>
<div class="t" style="left:663.79px;top:1752.00px;font-size:35.0px;line-height:35.0px;-webkit-text-stroke-width:0.55px;transform:scaleX(0.9568)">(43.7)</div>
<div class="t" style="left:873.54px;top:1752.00px;font-size:35.0px;line-height:35.0px;-webkit-text-stroke-width:0.55px;transform:scaleX(0.9568)">824<span style="margin:0 0.139em">I</span></div>
<div class="t" style="left:961.09px;top:1752.00px;font-size:35.0px;line-height:35.0px;-webkit-text-stroke-width:0.55px;transform:scaleX(0.9568)">(44)</div>
<div class="t" style="left:1211.03px;top:1752.00px;font-size:35.0px;line-height:35.0px;-webkit-text-stroke-width:0.55px;transform:scaleX(0.9568)">2702</div>
<div class="t" style="left:1299.09px;top:1752.00px;font-size:35.0px;line-height:35.0px;-webkit-text-stroke-width:0.55px;transform:scaleX(0.9568)">(42.8)</div>
<div class="t" style="left:547.40px;top:1843.60px;font-size:35.0px;line-height:35.0px;-webkit-text-stroke-width:0.55px;transform:scaleX(0.9568)">22,905</div>
<div class="t" style="left:663.79px;top:1843.60px;font-size:35.0px;line-height:35.0px;-webkit-text-stroke-width:0.55px;transform:scaleX(0.9568)">(9<span style="margin:0 0.139em">I</span>.4)</div>
<div class="t" style="left:845.61px;top:1843.60px;font-size:35.0px;line-height:35.0px;-webkit-text-stroke-width:0.55px;transform:scaleX(0.9568)"><span style="margin:0 0.139em">I</span>7,832</div>
<div class="t" style="left:961.09px;top:1843.60px;font-size:35.0px;line-height:35.0px;-webkit-text-stroke-width:0.55px;transform:scaleX(0.9568)">(95.<span style="margin:0 0.139em">I</span>)</div>
<div class="t" style="left:1211.03px;top:1843.60px;font-size:35.0px;line-height:35.0px;-webkit-text-stroke-width:0.55px;transform:scaleX(0.9568)">5073</div>
<div class="t" style="left:1299.09px;top:1843.60px;font-size:35.0px;line-height:35.0px;-webkit-text-stroke-width:0.55px;transform:scaleX(0.9568)">(80.4)</div>
<div class="t" style="left:575.34px;top:1889.40px;font-size:35.0px;line-height:35.0px;-webkit-text-stroke-width:0.55px;transform:scaleX(0.9568)">2<span style="margin:0 0.139em">I</span>52</div>
<div class="t" style="left:663.79px;top:1889.40px;font-size:35.0px;line-height:35.0px;-webkit-text-stroke-width:0.55px;transform:scaleX(0.9568)">(8.6)</div>
<div class="t" style="left:892.17px;top:1889.40px;font-size:35.0px;line-height:35.0px;-webkit-text-stroke-width:0.55px;transform:scaleX(0.9568)">9<span style="margin:0 0.139em">I</span>5</div>
<div class="t" style="left:961.09px;top:1889.40px;font-size:35.0px;line-height:35.0px;-webkit-text-stroke-width:0.55px;transform:scaleX(0.9568)">(4.9)</div>
<div class="t" style="left:1211.04px;top:1889.40px;font-size:35.0px;line-height:35.0px;-webkit-text-stroke-width:0.55px;transform:scaleX(0.9568)"><span style="margin:0 0.139em">I</span>237</div>
<div class="t" style="left:1299.09px;top:1889.40px;font-size:35.0px;line-height:35.0px;-webkit-text-stroke-width:0.55px;transform:scaleX(0.9568)">(<span style="margin:0 0.139em">I</span>9.6)</div>
<div class="t" style="left:591.65px;top:1935.20px;font-size:35.0px;line-height:35.0px;-webkit-text-stroke-width:0.55px;transform:scaleX(0.9545)">48.9</div>
<div class="t" style="left:697.27px;top:1935.20px;font-size:35.0px;line-height:35.0px;-webkit-text-stroke-width:0.55px;transform:scaleX(0.9542)"><span style="margin:0 0.139em">I</span>7.6</div>
<div class="t" style="left:889.15px;top:1935.20px;font-size:35.0px;line-height:35.0px;-webkit-text-stroke-width:0.55px;transform:scaleX(0.9515)">47.8</div>
<div class="t" style="left:995.02px;top:1935.20px;font-size:35.0px;line-height:35.0px;-webkit-text-stroke-width:0.55px;transform:scaleX(0.9475)"><span style="margin:0 0.139em">I</span>8.0</div>
<div class="t" style="left:1227.76px;top:1935.20px;font-size:35.0px;line-height:35.0px;-webkit-text-stroke-width:0.55px;transform:scaleX(0.9424)">52.2</div>
<div class="t" style="left:1333.01px;top:1935.20px;font-size:35.0px;line-height:35.0px;-webkit-text-stroke-width:0.55px;transform:scaleX(0.9237)"><span style="margin:0 0.139em">I</span>6.3</div>
<div class="t" style="left:592.05px;top:1981.00px;font-size:35.0px;line-height:35.0px;-webkit-text-stroke-width:0.55px;transform:scaleX(0.9485)">0.59</div>
<div class="t" style="left:698.06px;top:1981.00px;font-size:35.0px;line-height:35.0px;-webkit-text-stroke-width:0.55px;transform:scaleX(0.9375)">0.<span style="margin:0 0.139em">I</span></div>
<div class="t" style="left:889.66px;top:1981.00px;font-size:35.0px;line-height:35.0px;-webkit-text-stroke-width:0.55px;transform:scaleX(0.9439)">0.59</div>
<div class="t" style="left:995.86px;top:1981.00px;font-size:35.0px;line-height:35.0px;-webkit-text-stroke-width:0.55px;transform:scaleX(0.9375)">0.<span style="margin:0 0.139em">I</span></div>
<div class="t" style="left:1227.76px;top:1981.00px;font-size:35.0px;line-height:35.0px;-webkit-text-stroke-width:0.55px;transform:scaleX(0.9424)">0.62</div>
<div class="t" style="left:1333.67px;top:1981.00px;font-size:35.0px;line-height:35.0px;-webkit-text-stroke-width:0.55px;transform:scaleX(0.9300)">0.<span style="margin:0 0.139em">I</span></div>
<div class="t" style="left:611.28px;top:2026.80px;font-size:35.0px;line-height:35.0px;-webkit-text-stroke-width:0.55px;transform:scaleX(0.9234)">5.0</div>
<div class="t" style="left:697.36px;top:2026.80px;font-size:35.0px;line-height:35.0px;-webkit-text-stroke-width:0.55px;transform:scaleX(0.9545)"><span style="margin:0 0.139em">I</span>.<span style="margin:0 0.139em">I</span></div>
<div class="t" style="left:909.09px;top:2026.80px;font-size:35.0px;line-height:35.0px;-webkit-text-stroke-width:0.55px;transform:scaleX(0.9128)">5.0</div>
<div class="t" style="left:994.92px;top:2026.80px;font-size:35.0px;line-height:35.0px;-webkit-text-stroke-width:0.55px;transform:scaleX(0.9606)"><span style="margin:0 0.139em">I</span>.<span style="margin:0 0.139em">I</span></div>
<div class="t" style="left:1246.89px;top:2026.80px;font-size:35.0px;line-height:35.0px;-webkit-text-stroke-width:0.55px;transform:scaleX(0.9064)">5.0</div>
<div class="t" style="left:1332.79px;top:2026.80px;font-size:35.0px;line-height:35.0px;-webkit-text-stroke-width:0.55px;transform:scaleX(0.9515)"><span style="margin:0 0.139em">I</span>.<span style="margin:0 0.139em">I</span></div>
<div class="t" style="left:611.25px;top:2072.60px;font-size:35.0px;line-height:35.0px;-webkit-text-stroke-width:0.55px;transform:scaleX(0.9500)">5.7</div>
<div class="t" style="left:697.36px;top:2072.60px;font-size:35.0px;line-height:35.0px;-webkit-text-stroke-width:0.55px;transform:scaleX(0.9545)"><span style="margin:0 0.139em">I</span>.<span style="margin:0 0.139em">I</span></div>
<div class="t" style="left:909.07px;top:2072.60px;font-size:35.0px;line-height:35.0px;-webkit-text-stroke-width:0.55px;transform:scaleX(0.9326)">5.7</div>
<div class="t" style="left:994.92px;top:2072.60px;font-size:35.0px;line-height:35.0px;-webkit-text-stroke-width:0.55px;transform:scaleX(0.9606)"><span style="margin:0 0.139em">I</span>.<span style="margin:0 0.139em">I</span></div>
<div class="t" style="left:1246.88px;top:2072.60px;font-size:35.0px;line-height:35.0px;-webkit-text-stroke-width:0.55px;transform:scaleX(0.9170)">5.8</div>
<div class="t" style="left:1332.79px;top:2072.60px;font-size:35.0px;line-height:35.0px;-webkit-text-stroke-width:0.55px;transform:scaleX(0.9515)"><span style="margin:0 0.139em">I</span>.<span style="margin:0 0.139em">I</span></div>
<div class="t" style="left:1538.95px;top:194.80px;font-size:35.0px;line-height:35.0px;font-weight:bold;-webkit-text-stroke-width:0.55px;transform:scaleX(1.0488)">0.00<span style="margin:0 0.139em">I</span></div>
<div class="t" style="left:1538.95px;top:332.20px;font-size:35.0px;line-height:35.0px;font-weight:bold;-webkit-text-stroke-width:0.55px;transform:scaleX(1.0488)">0.00<span style="margin:0 0.139em">I</span></div>
<div class="t" style="left:1538.95px;top:607.00px;font-size:35.0px;line-height:35.0px;font-weight:bold;-webkit-text-stroke-width:0.55px;transform:scaleX(1.0488)">0.00<span style="margin:0 0.139em">I</span></div>
<div class="t" style="left:1538.95px;top:790.20px;font-size:35.0px;line-height:35.0px;font-weight:bold;-webkit-text-stroke-width:0.55px;transform:scaleX(1.0488)">0.00<span style="margin:0 0.139em">I</span></div>
<div class="t" style="left:1538.95px;top:927.60px;font-size:35.0px;line-height:35.0px;font-weight:bold;-webkit-text-stroke-width:0.55px;transform:scaleX(1.0488)">0.00<span style="margin:0 0.139em">I</span></div>
<div class="t" style="left:1538.95px;top:1110.80px;font-size:35.0px;line-height:35.0px;font-weight:bold;-webkit-text-stroke-width:0.55px;transform:scaleX(1.0488)">0.00<span style="margin:0 0.139em">I</span></div>
<div class="t" style="left:1538.95px;top:1248.20px;font-size:35.0px;line-height:35.0px;font-weight:bold;-webkit-text-stroke-width:0.55px;transform:scaleX(1.0488)">0.00<span style="margin:0 0.139em">I</span></div>
<div class="t" style="left:1538.95px;top:1385.60px;font-size:35.0px;line-height:35.0px;font-weight:bold;-webkit-text-stroke-width:0.55px;transform:scaleX(1.0488)">0.00<span style="margin:0 0.139em">I</span></div>
<div class="t" style="left:1538.95px;top:1523.00px;font-size:35.0px;line-height:35.0px;font-weight:bold;-webkit-text-stroke-width:0.55px;transform:scaleX(1.0488)">0.00<span style="margin:0 0.139em">I</span></div>
<div class="t" style="left:1538.95px;top:1797.80px;font-size:35.0px;line-height:35.0px;font-weight:bold;-webkit-text-stroke-width:0.55px;transform:scaleX(1.0488)">0.00<span style="margin:0 0.139em">I</span></div>
<div class="t" style="left:1538.95px;top:1935.20px;font-size:35.0px;line-height:35.0px;font-weight:bold;-webkit-text-stroke-width:0.55px;transform:scaleX(1.0488)">0.00<span style="margin:0 0.139em">I</span></div>
<div class="t" style="left:1538.95px;top:1981.00px;font-size:35.0px;line-height:35.0px;font-weight:bold;-webkit-text-stroke-width:0.55px;transform:scaleX(1.0488)">0.00<span style="margin:0 0.139em">I</span></div>
<div class="t" style="left:1538.95px;top:2072.60px;font-size:35.0px;line-height:35.0px;font-weight:bold;-webkit-text-stroke-width:0.55px;transform:scaleX(1.0488)">0.00<span style="margin:0 0.139em">I</span></div>
<div class="t" style="left:1540.76px;top:1660.40px;font-size:35.0px;line-height:35.0px;-webkit-text-stroke-width:0.55px;transform:scaleX(0.9376)">0.<span style="margin:0 0.139em">I</span><span style="margin:0 0.139em">I</span>5</div>
<div class="t" style="left:1540.06px;top:2026.80px;font-size:35.0px;line-height:35.0px;-webkit-text-stroke-width:0.55px;transform:scaleX(0.9412)">0.573</div>
<div class="t" style="left:0.67px;top:2147.80px;font-size:33.0px;line-height:33.0px;-webkit-text-stroke-width:0.35px;transform:scaleX(0.9645)">CRD:</div>
<div class="t" style="left:87.86px;top:2147.80px;font-size:33.0px;line-height:33.0px;-webkit-text-stroke-width:0.35px;transform:scaleX(0.9404)"><span style="-webkit-text-stroke-width:0.0px">chronic</span></div>
<div class="t" style="left:198.88px;top:2147.80px;font-size:33.0px;line-height:33.0px;-webkit-text-stroke-width:0.35px;transform:scaleX(0.9106)"><span style="-webkit-text-stroke-width:0.0px">resistant</span></div>
<div class="t" style="left:325.39px;top:2147.80px;font-size:33.0px;line-height:33.0px;-webkit-text-stroke-width:0.35px;transform:scaleX(0.9078)"><span style="-webkit-text-stroke-width:0.0px">depression</span>;</div>
<div class="t" style="left:488.49px;top:2147.80px;font-size:33.0px;line-height:33.0px;-webkit-text-stroke-width:0.35px;transform:scaleX(1.0018)">DM:</div>
<div class="t" style="left:559.32px;top:2147.80px;font-size:33.0px;line-height:33.0px;-webkit-text-stroke-width:0.35px;transform:scaleX(0.8789)"><span style="-webkit-text-stroke-width:0.0px">diabetes</span></div>
<div class="t" style="left:680.42px;top:2147.80px;font-size:33.0px;line-height:33.0px;-webkit-text-stroke-width:0.35px;transform:scaleX(0.9405)"><span style="-webkit-text-stroke-width:0.0px">mellitus</span>;</div>
<div class="t" style="left:801.29px;top:2147.80px;font-size:33.0px;line-height:33.0px;-webkit-text-stroke-width:0.35px;transform:scaleX(0.9686)">H<span style="-webkit-text-stroke-width:0.0px">b</span>A<span style="margin:0 0.139em">I</span><span style="-webkit-text-stroke-width:0.0px">c</span>:</div>
<div class="t" style="left:915.01px;top:2147.80px;font-size:33.0px;line-height:33.0px;-webkit-text-stroke-width:0.35px;transform:scaleX(0.8916)"><span style="-webkit-text-stroke-width:0.0px">glycosylated</span></div>
<div class="t" style="left:1088.27px;top:2147.80px;font-size:33.0px;line-height:33.0px;-webkit-text-stroke-width:0.35px;transform:scaleX(0.9160)"><span style="-webkit-text-stroke-width:0.0px">hemoglobin</span>;</div>
<div class="t" style="left:1262.21px;top:2147.80px;font-size:33.0px;line-height:33.0px;-webkit-text-stroke-width:0.35px;transform:scaleX(0.8638)">PIR:</div>
<div class="t" style="left:1326.36px;top:2147.80px;font-size:33.0px;line-height:33.0px;-webkit-text-stroke-width:0.35px;transform:scaleX(0.9708)"><span style="-webkit-text-stroke-width:0.0px">poverty</span></div>
<div class="t" style="left:1443.05px;top:2147.80px;font-size:33.0px;line-height:33.0px;-webkit-text-stroke-width:0.35px;transform:scaleX(0.9243)"><span style="-webkit-text-stroke-width:0.0px">income</span></div>
<div class="t" style="left:1552.33px;top:2147.80px;font-size:33.0px;line-height:33.0px;-webkit-text-stroke-width:0.35px;transform:scaleX(0.9870)"><span style="-webkit-text-stroke-width:0.0px">ratio</span>;</div>
<div class="t" style="left:2.31px;top:2189.40px;font-size:33.0px;line-height:33.0px;-webkit-text-stroke-width:0.35px;transform:scaleX(0.9898)">TC:</div>
<div class="t" style="left:62.99px;top:2189.40px;font-size:33.0px;line-height:33.0px;-webkit-text-stroke-width:0.35px;transform:scaleX(1.0085)"><span style="-webkit-text-stroke-width:0.0px">total</span></div>
<div class="t" style="left:136.25px;top:2189.40px;font-size:33.0px;line-height:33.0px;-webkit-text-stroke-width:0.35px;transform:scaleX(0.9467)"><span style="-webkit-text-stroke-width:0.0px">cholesterol</span>;</div>
<div class="t" style="left:305.90px;top:2189.40px;font-size:33.0px;line-height:33.0px;-webkit-text-stroke-width:0.35px;transform:scaleX(1.0128)">WH<span style="-webkit-text-stroke-width:0.0px">t</span>R:</div>
<div class="t" style="left:415.00px;top:2189.40px;font-size:33.0px;line-height:33.0px;-webkit-text-stroke-width:0.35px;transform:scaleX(0.9340)"><span style="-webkit-text-stroke-width:0.0px">waist</span>-<span style="-webkit-text-stroke-width:0.0px">to</span>-<span style="-webkit-text-stroke-width:0.0px">height</span></div>
<div class="t" style="left:625.94px;top:2189.40px;font-size:33.0px;line-height:33.0px;-webkit-text-stroke-width:0.35px;transform:scaleX(0.9812)"><span style="-webkit-text-stroke-width:0.0px">ratio</span>.</div>
<div class="t" style="left:0.53px;top:2230.90px;font-size:33.0px;line-height:33.0px;-webkit-text-stroke-width:0.35px;transform:scaleX(0.9230)">B<span style="-webkit-text-stroke-width:0.0px">old</span></div>
<div class="t" style="left:72.80px;top:2230.90px;font-size:33.0px;line-height:33.0px;-webkit-text-stroke-width:0.35px;transform:scaleX(0.8564)"><span style="-webkit-text-stroke-width:0.0px">values</span></div>
<div class="t" style="left:165.82px;top:2230.90px;font-size:33.0px;line-height:33.0px;-webkit-text-stroke-width:0.35px;transform:scaleX(0.9416)"><span style="-webkit-text-stroke-width:0.0px">represent</span></div>
<div class="t" style="left:305.78px;top:2230.90px;font-size:33.0px;line-height:33.0px;-webkit-text-stroke-width:0.35px;transform:scaleX(0.9600)"><span style="-webkit-text-stroke-width:0.0px">p</span></div>
<div class="t" style="left:360.09px;top:2230.90px;font-size:33.0px;line-height:33.0px;-webkit-text-stroke-width:0.35px;transform:scaleX(0.9129)">0.05,</div>
<div class="t" style="left:435.25px;top:2230.90px;font-size:33.0px;line-height:33.0px;-webkit-text-stroke-width:0.35px;transform:scaleX(0.9230)"><span style="-webkit-text-stroke-width:0.0px">indicating</span></div>
<div class="t" style="left:572.88px;top:2230.90px;font-size:33.0px;line-height:33.0px;-webkit-text-stroke-width:0.35px;transform:scaleX(0.9227)"><span style="-webkit-text-stroke-width:0.0px">statistical</span></div>
<div class="t" style="left:707.93px;top:2230.90px;font-size:33.0px;line-height:33.0px;-webkit-text-stroke-width:0.35px;transform:scaleX(0.8688)"><span style="-webkit-text-stroke-width:0.0px">significance</span></div>
<div class="t" style="left:868.05px;top:2230.90px;font-size:33.0px;line-height:33.0px;-webkit-text-stroke-width:0.35px;transform:scaleX(0.9727)"><span style="-webkit-text-stroke-width:0.0px">in</span></div>
<div class="t" style="left:903.43px;top:2230.90px;font-size:33.0px;line-height:33.0px;-webkit-text-stroke-width:0.35px;transform:scaleX(0.9744)"><span style="-webkit-text-stroke-width:0.0px">the</span></div>
<div class="t" style="left:957.55px;top:2230.90px;font-size:33.0px;line-height:33.0px;-webkit-text-stroke-width:0.35px;transform:scaleX(0.8480)"><span style="-webkit-text-stroke-width:0.0px">analysis</span>.</div>
<div class="ln" style="top:50px;height:2px;opacity:1"></div>
<div class="ln" style="top:52px;height:1px;opacity:0.45"></div>
<div class="ln" style="top:172px;height:2px;opacity:1"></div>
<div class="ln" style="top:174px;height:1px;opacity:0.25"></div>
<div class="ln" style="top:2127px;height:1px;opacity:0.3"></div>
<div class="ln" style="top:2128px;height:1px;opacity:1"></div>
<div class="ln" style="top:2129px;height:1px;opacity:0.7"></div>
<div class="pm" style="left:170.60px;top:1940.20px;width:25.00px;height:26px"><i style="left:11.60px;top:0.8px;width:1.8px;height:23.2px"></i><i style="left:0;top:11.8px;width:25.00px;height:1.8px"></i><i style="left:0;top:23.4px;width:25.00px;height:1.8px"></i></div>
<div class="pm" style="left:212.90px;top:1986.00px;width:25.30px;height:26px"><i style="left:11.75px;top:0.8px;width:1.8px;height:23.2px"></i><i style="left:0;top:11.8px;width:25.30px;height:1.8px"></i><i style="left:0;top:23.4px;width:25.30px;height:1.8px"></i></div>
<div class="pm" style="left:161.70px;top:2031.80px;width:25.30px;height:26px"><i style="left:11.75px;top:0.8px;width:1.8px;height:23.2px"></i><i style="left:0;top:11.8px;width:25.30px;height:1.8px"></i><i style="left:0;top:23.4px;width:25.30px;height:1.8px"></i></div>
<div class="pm" style="left:218.00px;top:2077.60px;width:25.10px;height:26px"><i style="left:11.65px;top:0.8px;width:1.8px;height:23.2px"></i><i style="left:0;top:11.8px;width:25.10px;height:1.8px"></i><i style="left:0;top:23.4px;width:25.10px;height:1.8px"></i></div>
<div class="pm" style="left:664.70px;top:1940.20px;width:25.00px;height:26px"><i style="left:11.60px;top:0.8px;width:1.8px;height:23.2px"></i><i style="left:0;top:11.8px;width:25.00px;height:1.8px"></i><i style="left:0;top:23.4px;width:25.00px;height:1.8px"></i></div>
<div class="pm" style="left:962.90px;top:1940.20px;width:24.30px;height:26px"><i style="left:11.25px;top:0.8px;width:1.8px;height:23.2px"></i><i style="left:0;top:11.8px;width:24.30px;height:1.8px"></i><i style="left:0;top:23.4px;width:24.30px;height:1.8px"></i></div>
<div class="pm" style="left:1300.40px;top:1940.20px;width:24.60px;height:26px"><i style="left:11.40px;top:0.8px;width:1.8px;height:23.2px"></i><i style="left:0;top:11.8px;width:24.60px;height:1.8px"></i><i style="left:0;top:23.4px;width:24.60px;height:1.8px"></i></div>
<div class="pm" style="left:664.70px;top:1986.00px;width:25.00px;height:26px"><i style="left:11.60px;top:0.8px;width:1.8px;height:23.2px"></i><i style="left:0;top:11.8px;width:25.00px;height:1.8px"></i><i style="left:0;top:23.4px;width:25.00px;height:1.8px"></i></div>
<div class="pm" style="left:962.90px;top:1986.00px;width:24.30px;height:26px"><i style="left:11.25px;top:0.8px;width:1.8px;height:23.2px"></i><i style="left:0;top:11.8px;width:24.30px;height:1.8px"></i><i style="left:0;top:23.4px;width:24.30px;height:1.8px"></i></div>
<div class="pm" style="left:1300.40px;top:1986.00px;width:24.60px;height:26px"><i style="left:11.40px;top:0.8px;width:1.8px;height:23.2px"></i><i style="left:0;top:11.8px;width:24.60px;height:1.8px"></i><i style="left:0;top:23.4px;width:24.60px;height:1.8px"></i></div>
<div class="pm" style="left:664.70px;top:2031.80px;width:25.00px;height:26px"><i style="left:11.60px;top:0.8px;width:1.8px;height:23.2px"></i><i style="left:0;top:11.8px;width:25.00px;height:1.8px"></i><i style="left:0;top:23.4px;width:25.00px;height:1.8px"></i></div>
<div class="pm" style="left:962.90px;top:2031.80px;width:24.30px;height:26px"><i style="left:11.25px;top:0.8px;width:1.8px;height:23.2px"></i><i style="left:0;top:11.8px;width:24.30px;height:1.8px"></i><i style="left:0;top:23.4px;width:24.30px;height:1.8px"></i></div>
<div class="pm" style="left:1300.40px;top:2031.80px;width:24.60px;height:26px"><i style="left:11.40px;top:0.8px;width:1.8px;height:23.2px"></i><i style="left:0;top:11.8px;width:24.60px;height:1.8px"></i><i style="left:0;top:23.4px;width:24.60px;height:1.8px"></i></div>
<div class="pm" style="left:664.70px;top:2077.60px;width:25.00px;height:26px"><i style="left:11.60px;top:0.8px;width:1.8px;height:23.2px"></i><i style="left:0;top:11.8px;width:25.00px;height:1.8px"></i><i style="left:0;top:23.4px;width:25.00px;height:1.8px"></i></div>
<div class="pm" style="left:962.90px;top:2077.60px;width:24.30px;height:26px"><i style="left:11.25px;top:0.8px;width:1.8px;height:23.2px"></i><i style="left:0;top:11.8px;width:24.30px;height:1.8px"></i><i style="left:0;top:23.4px;width:24.30px;height:1.8px"></i></div>
<div class="pm" style="left:1300.40px;top:2077.60px;width:24.60px;height:26px"><i style="left:11.40px;top:0.8px;width:1.8px;height:23.2px"></i><i style="left:0;top:11.8px;width:24.60px;height:1.8px"></i><i style="left:0;top:23.4px;width:24.60px;height:1.8px"></i></div>
<div class="ln" style="left:587.4px;width:25.30px;top:134.20px;height:1.4px"></div>
<div class="ln" style="left:587.4px;width:25.30px;top:141.50px;height:1.4px"></div>
<div class="ln" style="left:885.1px;width:25.00px;top:134.20px;height:1.4px"></div>
<div class="ln" style="left:885.1px;width:25.00px;top:141.50px;height:1.4px"></div>
<div class="ln" style="left:1250.0px;width:25.00px;top:134.20px;height:1.4px"></div>
<div class="ln" style="left:1250.0px;width:25.00px;top:141.50px;height:1.4px"></div>
<div class="ln" style="left:42.0px;width:22.00px;top:1007.00px;height:1.8px"></div>
<div class="ln" style="left:42.0px;width:22.00px;top:1098.40px;height:1.8px"></div>
<svg style="position:absolute;left:41.70px;top:662.30px" width="22.40" height="21.20" viewBox="0 0 22.40 21.20"><polyline points="22.04,0.81 1.80,10.60 22.04,20.39" fill="none" stroke="#231f20" stroke-width="1.8" stroke-linejoin="miter" stroke-miterlimit="10"/></svg>
<svg style="position:absolute;left:41.70px;top:753.90px" width="22.40" height="21.20" viewBox="0 0 22.40 21.20"><polyline points="0.36,0.81 20.60,10.60 0.36,20.39" fill="none" stroke="#231f20" stroke-width="1.8" stroke-linejoin="miter" stroke-miterlimit="10"/></svg>
<svg style="position:absolute;left:42.00px;top:980.20px" width="22.00" height="20.50" viewBox="0 0 22.00 20.50"><polyline points="21.64,0.81 1.80,10.25 21.64,19.69" fill="none" stroke="#231f20" stroke-width="1.8" stroke-linejoin="miter" stroke-miterlimit="10"/></svg>
<svg style="position:absolute;left:42.00px;top:1071.00px" width="22.00" height="21.50" viewBox="0 0 22.00 21.50"><polyline points="0.36,0.81 20.20,10.75 0.36,20.69" fill="none" stroke="#231f20" stroke-width="1.8" stroke-linejoin="miter" stroke-miterlimit="10"/></svg>
<svg style="position:absolute;left:1516.60px;top:204.50px" width="20.70" height="21.20" viewBox="0 0 20.70 21.20"><polyline points="20.08,1.40 3.10,10.60 20.08,19.81" fill="none" stroke="#231f20" stroke-width="3.1" stroke-linejoin="miter" stroke-miterlimit="10"/></svg>
<svg style="position:absolute;left:1516.60px;top:341.90px" width="20.70" height="21.20" viewBox="0 0 20.70 21.20"><polyline points="20.08,1.40 3.10,10.60 20.08,19.80" fill="none" stroke="#231f20" stroke-width="3.1" stroke-linejoin="miter" stroke-miterlimit="10"/></svg>
<svg style="position:absolute;left:1516.60px;top:616.70px" width="20.70" height="21.20" viewBox="0 0 20.70 21.20"><polyline points="20.08,1.40 3.10,10.60 20.08,19.80" fill="none" stroke="#231f20" stroke-width="3.1" stroke-linejoin="miter" stroke-miterlimit="10"/></svg>
<svg style="position:absolute;left:1516.60px;top:799.90px" width="20.70" height="21.20" viewBox="0 0 20.70 21.20"><polyline points="20.08,1.40 3.10,10.60 20.08,19.80" fill="none" stroke="#231f20" stroke-width="3.1" stroke-linejoin="miter" stroke-miterlimit="10"/></svg>
<svg style="position:absolute;left:1516.60px;top:937.30px" width="20.70" height="21.20" viewBox="0 0 20.70 21.20"><polyline points="20.08,1.40 3.10,10.60 20.08,19.80" fill="none" stroke="#231f20" stroke-width="3.1" stroke-linejoin="miter" stroke-miterlimit="10"/></svg>
<svg style="position:absolute;left:1516.60px;top:1120.50px" width="20.70" height="21.20" viewBox="0 0 20.70 21.20"><polyline points="20.08,1.40 3.10,10.60 20.08,19.81" fill="none" stroke="#231f20" stroke-width="3.1" stroke-linejoin="miter" stroke-miterlimit="10"/></svg>
<svg style="position:absolute;left:1516.60px;top:1257.90px" width="20.70" height="21.20" viewBox="0 0 20.70 21.20"><polyline points="20.08,1.40 3.10,10.60 20.08,19.81" fill="none" stroke="#231f20" stroke-width="3.1" stroke-linejoin="miter" stroke-miterlimit="10"/></svg>
<svg style="position:absolute;left:1516.60px;top:1395.30px" width="20.70" height="21.20" viewBox="0 0 20.70 21.20"><polyline points="20.08,1.40 3.10,10.60 20.08,19.81" fill="none" stroke="#231f20" stroke-width="3.1" stroke-linejoin="miter" stroke-miterlimit="10"/></svg>
<svg style="position:absolute;left:1516.60px;top:1532.70px" width="20.70" height="21.20" viewBox="0 0 20.70 21.20"><polyline points="20.08,1.40 3.10,10.60 20.08,19.81" fill="none" stroke="#231f20" stroke-width="3.1" stroke-linejoin="miter" stroke-miterlimit="10"/></svg>
<svg style="position:absolute;left:1516.60px;top:1807.50px" width="20.70" height="21.20" viewBox="0 0 20.70 21.20"><polyline points="20.08,1.40 3.10,10.60 20.08,19.81" fill="none" stroke="#231f20" stroke-width="3.1" stroke-linejoin="miter" stroke-miterlimit="10"/></svg>
<svg style="position:absolute;left:1516.60px;top:1944.90px" width="20.70" height="21.20" viewBox="0 0 20.70 21.20"><polyline points="20.08,1.40 3.10,10.60 20.08,19.81" fill="none" stroke="#231f20" stroke-width="3.1" stroke-linejoin="miter" stroke-miterlimit="10"/></svg>
<svg style="position:absolute;left:1516.60px;top:1990.70px" width="20.70" height="21.20" viewBox="0 0 20.70 21.20"><polyline points="20.08,1.40 3.10,10.60 20.08,19.81" fill="none" stroke="#231f20" stroke-width="3.1" stroke-linejoin="miter" stroke-miterlimit="10"/></svg>
<svg style="position:absolute;left:1516.60px;top:2082.30px" width="20.70" height="21.20" viewBox="0 0 20.70 21.20"><polyline points="20.08,1.40 3.10,10.60 20.08,19.81" fill="none" stroke="#231f20" stroke-width="3.1" stroke-linejoin="miter" stroke-miterlimit="10"/></svg>
<svg style="position:absolute;left:332.40px;top:2241.20px" width="20.50" height="18.30" viewBox="0 0 20.50 18.30"><polyline points="20.22,0.63 1.40,9.15 20.22,17.67" fill="none" stroke="#231f20" stroke-width="1.4" stroke-linejoin="miter" stroke-miterlimit="10"/></svg>
</body></html>
